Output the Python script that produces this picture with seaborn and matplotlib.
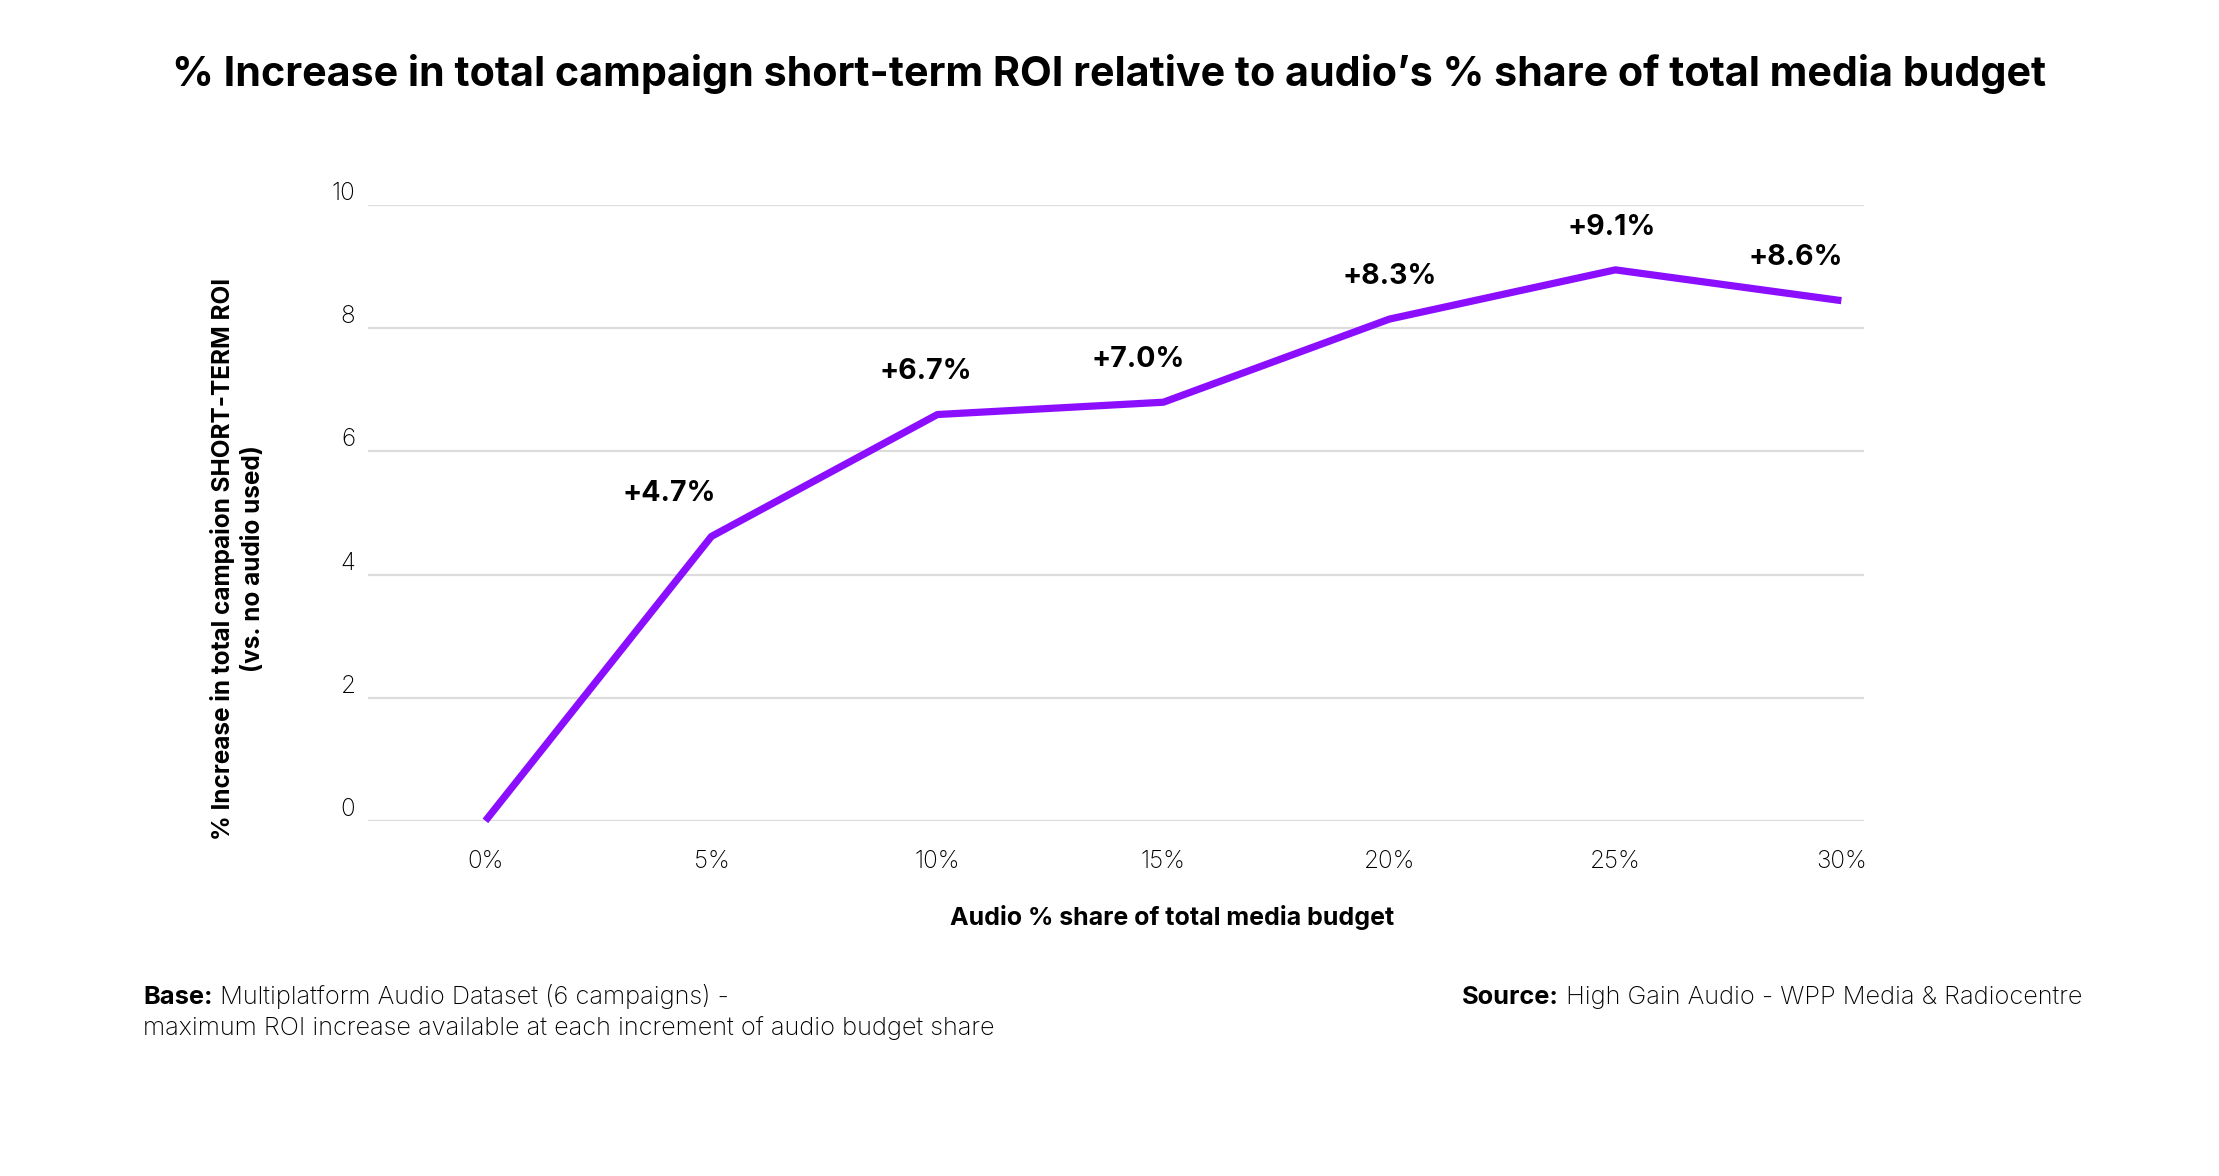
import matplotlib
matplotlib.use("Agg")
import matplotlib.pyplot as plt
import seaborn as sns
import pandas as pd

# audio share of total media budget (%) and the ROI uplift line
audio_share = [0, 5, 10, 15, 20, 25, 30]
roi_increase = [0, 4.62, 6.6, 6.8, 8.15, 8.95, 8.45]
point_labels = ["", "+4.7%", "+6.7%", "+7.0%", "+8.3%", "+9.1%", "+8.6%"]
y_ticks = [0, 2, 4, 6, 8, 10]
x_tick_labels = ["0%", "5%", "10%", "15%", "20%", "25%", "30%"]

PURPLE = "#8B0EFF"
FONT = ["Inter", "DejaVu Sans"]

sns.set_style("white")
plt.rcParams["font.family"] = FONT
plt.rcParams["text.color"] = "black"

df = pd.DataFrame({"share": audio_share, "roi": roi_increase})

fig = plt.figure(figsize=(22.19, 11.76), dpi=100)
ax = fig.add_axes([0.1658, 0.302, 0.6742, 0.5235])

sns.lineplot(data=df, x="share", y="roi", ax=ax, color=PURPLE,
             linewidth=5.2, clip_on=False, solid_capstyle="butt")

ax.set_xlim(-2.6, 30.5)
ax.set_ylim(0, 10)
ax.set_yticks(y_ticks)
ax.set_yticklabels([str(t) for t in y_ticks], fontsize=17.5, fontweight="light",
                   va="bottom", color="black")
ax.set_xticks(audio_share)
ax.set_xticklabels(x_tick_labels, fontsize=17.5, fontweight="light", color="black")
ax.tick_params(axis="y", length=0, pad=9)
ax.tick_params(axis="x", length=0, pad=21)
ax.grid(axis="y", color="#dcdcdc", linewidth=1.6)
ax.set_axisbelow(True)
for s in ax.spines.values():
    s.set_visible(False)
ax.set_xlabel("")
ax.set_ylabel("")

# value labels above each point
x_shift = [0, -30, -8, -18, 0, -3, -33]
for x, y, lab, dx in zip(audio_share, roi_increase, point_labels, x_shift):
    if lab:
        ax.annotate(lab, (x, y), xytext=(dx, 21), textcoords="offset points",
                    ha="center", va="bottom", fontsize=20.5, fontweight="bold")

fig.text(0.5, 0.937, "% Increase in total campaign short-term ROI relative to audio\u2019s % share of total media budget",
         ha="center", va="center", fontsize=29.7, fontweight="bold")

fig.text(0.528, 0.22, "Audio % share of total media budget", ha="center", va="center",
         fontsize=18, fontweight="bold")

fig.text(0.107, 0.525, "% Increase in total campaion SHORT-TERM ROI\n(vs. no audio used)",
         ha="center", va="center", rotation=90, fontsize=17.5, fontweight="bold",
         linespacing=1.35)

# footer notes
base = fig.text(0.0645, 0.142, "Base:", ha="left", va="bottom", fontsize=18.3, fontweight="bold")
ax.annotate(" Multiplatform Audio Dataset (6 campaigns) -", xy=(1, 0), xycoords=base,
            ha="left", va="bottom", fontsize=18.3, fontweight="light")
fig.text(0.0645, 0.116, "maximum ROI increase available at each increment of audio budget share",
         ha="left", va="bottom", fontsize=18.3, fontweight="light")

src = fig.text(0.659, 0.142, "Source:", ha="left", va="bottom", fontsize=18.3, fontweight="bold")
ax.annotate(" High Gain Audio - WPP Media & Radiocentre", xy=(1, 0), xycoords=src,
            ha="left", va="bottom", fontsize=18.3, fontweight="light")

fig.savefig("out.png", dpi=100, facecolor="white")
